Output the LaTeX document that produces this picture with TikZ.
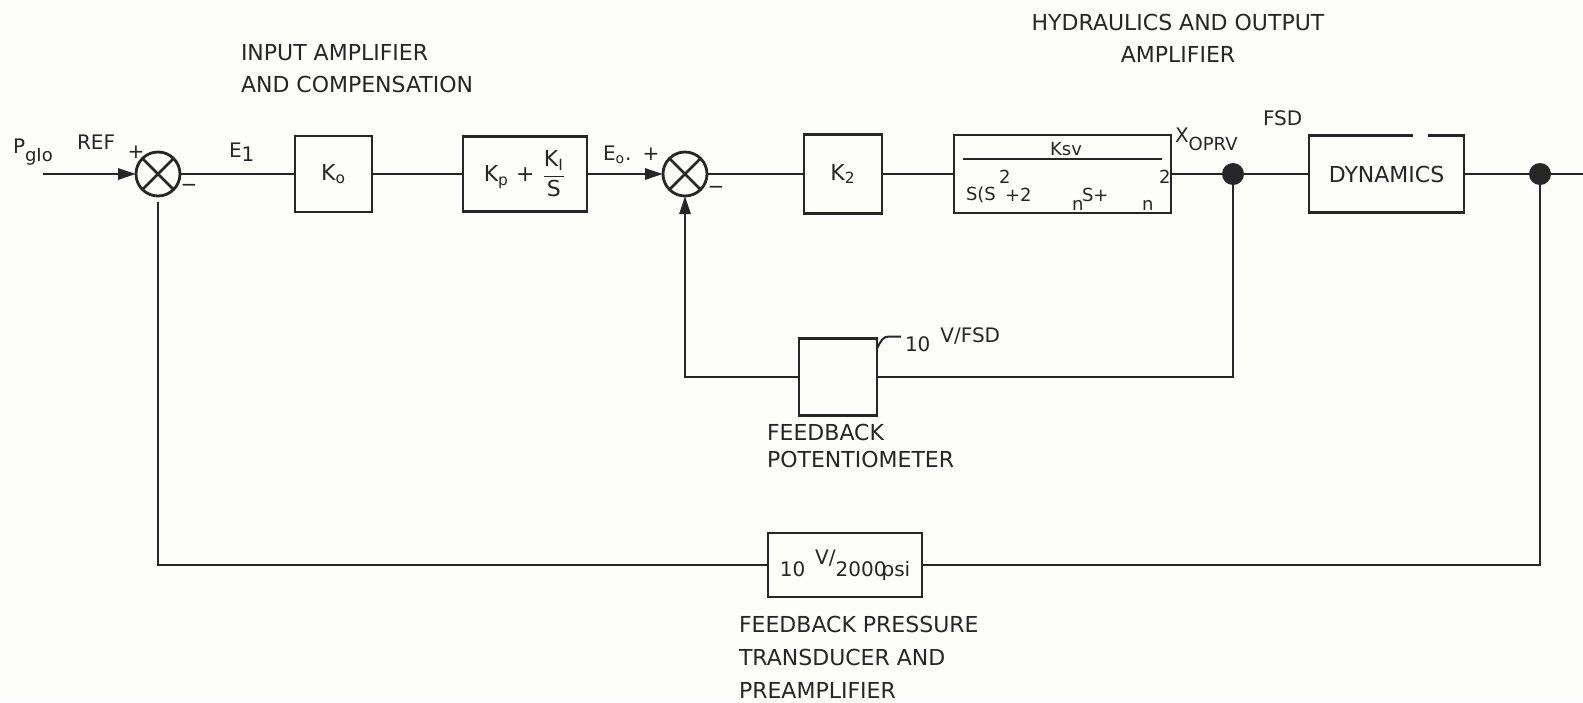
\documentclass[tikz,border=0pt]{standalone}
\usepackage{amsmath}
\usepackage{fontspec}
\setmainfont{DejaVu Sans}
\usetikzlibrary{arrows.meta}
\definecolor{ink}{HTML}{262626}
\definecolor{paper}{HTML}{FDFDF9}
\begin{document}
\begin{tikzpicture}[x=0.5pt,y=-0.5pt,color=ink,line width=1.4pt,
  every node/.style={inner sep=0pt,outer sep=0pt,font=\fontsize{11}{13}\selectfont},
  blk/.style={draw,rectangle,line width=1.4pt},
  sumj/.style={draw,circle,minimum size=22pt,line width=1.4pt},
  jdot/.style={circle,fill=ink,minimum size=11pt},
  arr/.style={-{Triangle[length=9pt,width=5.5pt]}},
  small/.style={font=\fontsize{10}{12}\selectfont},
  tiny/.style={font=\fontsize{9}{10}\selectfont}]
\fill[paper] (0,0) rectangle (1583,702);
\useasboundingbox (0,0) rectangle (1583,702);

% main path nodes
\coordinate (in) at (43,174);
\node[sumj] (s1) at (158,174) {};
\draw (s1.north west) -- (s1.south east) (s1.north east) -- (s1.south west);
\node[blk,minimum width=38.5pt,minimum height=38pt] (k0) at (333.5,174) {K\textsubscript{o}};
\node[blk,minimum width=62pt,minimum height=37.5pt] (kp) at (525,174)
  {K\textsubscript{p} + $\dfrac{\text{K\textsubscript{I}}}{\text{S}}$};
\node[sumj] (s2) at (685,174) {};
\draw (s2.north west) -- (s2.south east) (s2.north east) -- (s2.south west);
\node[blk,minimum width=39pt,minimum height=39.5pt] (k2) at (843,174) {K\textsubscript{2}};
\node[blk,minimum width=108.5pt,minimum height=39pt] (ksv) at (1062.5,174) {};
\node[jdot] (d1) at (1233,174) {};
\node[minimum width=77.5pt,minimum height=38.5pt] (dyn) at (1386.5,174) {DYNAMICS};
\draw ([xshift=13.25pt]dyn.north) -- (dyn.north west) -- (dyn.south west)
  -- (dyn.south east) -- (dyn.north east) -- ([xshift=20.75pt]dyn.north);
\node[jdot] (d2) at (1540,174) {};
\coordinate (out) at (1583,174);

% feedback blocks
\node[blk,minimum width=39pt,minimum height=38.5pt] (fbp) at (838,377) {};
\node[blk,minimum width=77pt,minimum height=32pt,small] (ptx) at (845,565)
  {10\hspace{5pt}\raisebox{6pt}{V/}2000\kern-2.5pt psi};

% Ksv transfer function contents
\draw[line width=1pt] ([xshift=4.5pt,yshift=7.5pt]ksv.west) -- ([xshift=-4.5pt,yshift=7.5pt]ksv.east);
\node[tiny] (ksvnum) at (1066,149) {Ksv};
\node[tiny,anchor=west] (dA) at (966,195) {S(S};
\node[tiny,anchor=west] (dB) at (999,177) {2};
\node[tiny,anchor=west] (dC) at (1005,195) {+2};
\node[tiny,anchor=west] (dD) at (1072,205) {n};
\node[tiny,anchor=west] (dE) at (1082,195) {S+};
\node[tiny,anchor=west] (dF) at (1142,205) {n};
\node[tiny,anchor=west] (dG) at (1159,177) {2};

% connectors
\draw[arr] (in) -- (s1.west);
\draw (s1.east) -- (k0.west);
\draw (k0.east) -- (kp.west);
\draw[arr] (kp.east) -- (s2.west);
\draw (s2.east) -- (k2.west);
\draw (k2.east) -- (ksv.west);
\draw (ksv.east) -- (d1);
\draw (d1) -- (dyn.west);
\draw (dyn.east) -- (d2);
\draw (d2) -- (out);
\draw (d1) |- (fbp.east);
\draw[arr] (fbp.west) -| (s2.south);
\draw (d2) |- (ptx.east);
\draw (ptx.west) -| ([yshift=-3pt]s1.south);

% signal labels
\node[small,anchor=base west] (pin) at (13,153) {P\raisebox{-4pt}{\fontsize{9}{9}\selectfont gIo}};
\node[small,anchor=west] (ref) at (77,142) {REF};
\node[small] (p1) at (136,152) {+};
\node[small] (m1) at (189,188) {−};
\node[small,anchor=base west] (e1) at (229,157) {E\raisebox{-2pt}{1}};
\node[small,anchor=base west] (eo) at (603,160) {E\textsubscript{o}.};
\node[small] (p2) at (651,154) {+};
\node[small] (m2) at (716,190) {−};
\node[small,anchor=base west] (xo) at (1175,142) {X\raisebox{-4pt}{\fontsize{9}{9}\selectfont OPRV}};
\node[small,anchor=west] (fsd) at (1263,118) {FSD};

% potentiometer gain with leader
\node[small,anchor=base west] (vfsd) at (905,351) {10\hspace{5pt}\raisebox{4.5pt}{V/FSD}};
\draw[line width=1pt] ([yshift=-5pt]fbp.north east)
  .. controls ([xshift=2pt,yshift=-1pt]fbp.north east) and ([xshift=3pt,yshift=1pt]fbp.north east)
  .. ([xshift=6pt,yshift=1pt]fbp.north east) -- ([xshift=12pt,yshift=1pt]fbp.north east);

% block descriptions
\node[align=left,anchor=west,font=\fontsize{11}{16}\selectfont] (lin) at (241,69)
  {INPUT AMPLIFIER\\AND COMPENSATION};
\node[align=center,font=\fontsize{11}{16}\selectfont] (lhy) at (1178,38.5)
  {HYDRAULICS AND OUTPUT\\AMPLIFIER};
\node[align=left,anchor=west,font=\fontsize{11}{13.5}\selectfont] (lfb) at (767,445.5)
  {FEEDBACK\\POTENTIOMETER};
\node[align=left,anchor=west,font=\fontsize{11}{16.5}\selectfont] (lpt) at (739,657)
  {FEEDBACK PRESSURE\\TRANSDUCER AND\\PREAMPLIFIER};
\end{tikzpicture}
\end{document}
